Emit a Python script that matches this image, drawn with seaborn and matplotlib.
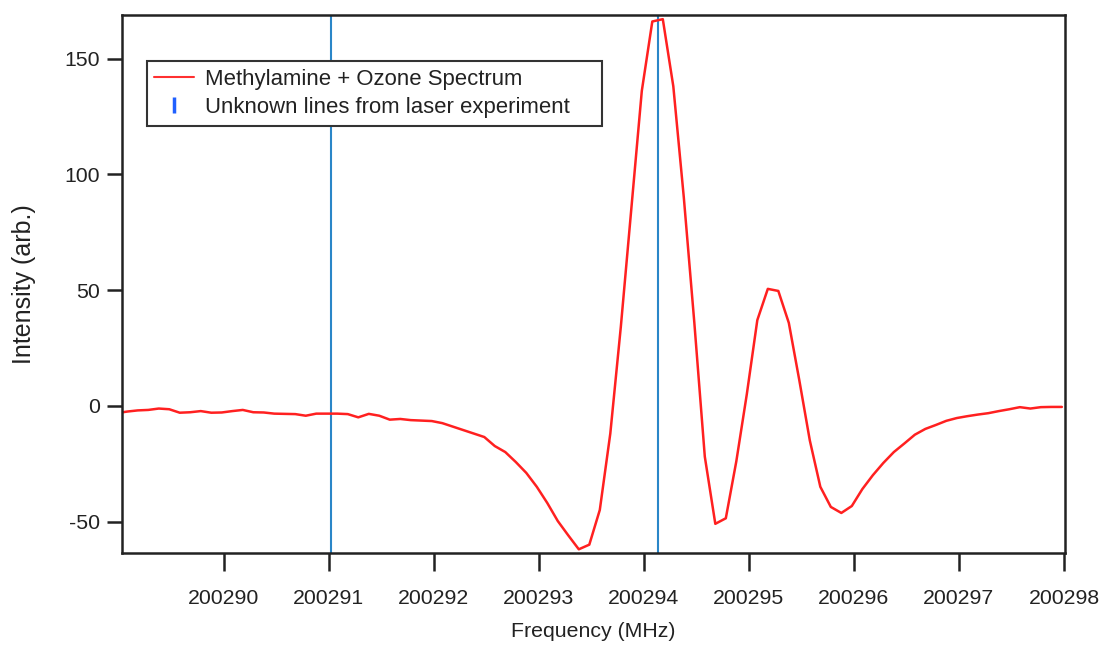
import numpy as np
import pandas as pd
import matplotlib
matplotlib.use("Agg")
import matplotlib.pyplot as plt
from matplotlib.lines import Line2D
import seaborn as sns

frequency = [
    200288.98, 200289.08, 200289.18, 200289.28, 200289.38, 200289.48, 200289.58, 200289.68,
    200289.78, 200289.88, 200289.98, 200290.08, 200290.18, 200290.28, 200290.38, 200290.48,
    200290.58, 200290.68, 200290.78, 200290.88, 200290.98, 200291.08, 200291.18, 200291.28,
    200291.38, 200291.48, 200291.58, 200291.68, 200291.78, 200291.88, 200291.98, 200292.08,
    200292.18, 200292.28, 200292.38, 200292.48, 200292.58, 200292.68, 200292.78, 200292.88,
    200292.98, 200293.08, 200293.18, 200293.28, 200293.38, 200293.48, 200293.58, 200293.68,
    200293.78, 200293.88, 200293.98, 200294.08, 200294.18, 200294.28, 200294.38, 200294.48,
    200294.58, 200294.68, 200294.78, 200294.88, 200294.98, 200295.08, 200295.18, 200295.28,
    200295.38, 200295.48, 200295.58, 200295.68, 200295.78, 200295.88, 200295.98, 200296.08,
    200296.18, 200296.28, 200296.38, 200296.48, 200296.58, 200296.68, 200296.78, 200296.88,
    200296.98, 200297.08, 200297.18, 200297.28, 200297.38, 200297.48, 200297.58, 200297.68,
    200297.78, 200297.88, 200297.98,
]
intensity = [
    -3.2, -2.5, -2.0, -1.8, -1.2, -1.5, -3.0, -2.8,
    -2.3, -3.0, -2.9, -2.3, -1.8, -2.8, -2.9, -3.4,
    -3.5, -3.6, -4.3, -3.4, -3.4, -3.4, -3.6, -5.0,
    -3.5, -4.3, -6.0, -5.7, -6.2, -6.4, -6.6, -7.5,
    -9.0, -10.5, -12.0, -13.5, -17.4, -20.0, -24.3, -29.0,
    -35.0, -42.0, -49.8, -56.0, -62.0, -60.0, -45.0, -12.0,
    34.0, 85.0, 136.0, 166.0, 167.0, 138.0, 90.0, 36.0,
    -22.0, -51.0, -48.6, -24.0, 5.0, 37.0, 50.5, 49.6,
    35.8, 11.0, -15.0, -35.0, -43.7, -46.3, -43.3, -36.0,
    -30.0, -24.7, -20.0, -16.3, -12.5, -10.0, -8.3, -6.5,
    -5.3, -4.5, -3.8, -3.2, -2.3, -1.5, -0.6, -1.2,
    -0.6, -0.5, -0.5,
]
unknown_lines = [200291.02, 200294.13]

x_ticks = [200290, 200291, 200292, 200293, 200294, 200295, 200296, 200297, 200298]
y_ticks = [-50, 0, 50, 100, 150]

sns.set_theme(style="ticks")
plt.rcParams["font.family"] = ["Liberation Sans", "DejaVu Sans"]

FS_TICK, FS_LEG = 15.3, 15.9

fig = plt.figure(figsize=(11.02, 6.46), dpi=100)
ax = fig.add_axes([122 / 1102, 1 - 553 / 646, (1065 - 122) / 1102, (553 - 15) / 646])

df = pd.DataFrame({"Frequency": frequency, "Intensity": intensity})
sns.lineplot(data=df, x="Frequency", y="Intensity", ax=ax, color="#ff2020",
             linewidth=1.8, sort=False, estimator=None)

for xv in unknown_lines:
    ax.axvline(xv, color="#2a86c8", linewidth=1.5, zorder=1)

ax.set_xlim(200289.03, 200298.01)
ax.set_ylim(-63.6, 168.8)
ax.set_xticks(x_ticks)
ax.set_xticklabels([str(t) for t in x_ticks], fontsize=FS_TICK)
ax.set_yticks(y_ticks)
ax.set_yticklabels([str(t) for t in y_ticks], fontsize=FS_TICK)

for s in ax.spines.values():
    s.set_visible(True)
    s.set_linewidth(1.8)
    s.set_color("#222222")

ax.tick_params(axis="x", direction="out", length=13, width=1.8,
               colors="#222222", pad=13)
ax.tick_params(axis="y", direction="out", length=11, width=1.8,
               colors="#222222", pad=5)

ax.set_xlabel("Frequency (MHz)", fontsize=FS_TICK, color="#222222", labelpad=10)
ax.set_ylabel("Intensity (arb.)", fontsize=18, color="#222222", labelpad=20)

handles = [
    Line2D([], [], color="#ff3030", linewidth=1.5),
    Line2D([], [], color="#2060ff", linestyle="none", marker="|",
           markersize=12, markeredgewidth=2.5),
]
labels = ["Methylamine + Ozone Spectrum", "Unknown lines from laser experiment    "]
leg = ax.legend(handles, labels, loc="upper left", bbox_to_anchor=(0.026, 0.9145),
                fontsize=FS_LEG, frameon=True, fancybox=False,
                handlelength=1.8, borderpad=0.36, labelspacing=0.32, handletextpad=0.5,
                borderaxespad=0)
leg.get_frame().set_edgecolor("#333333")
leg.get_frame().set_linewidth(1.5)
leg.get_frame().set_alpha(1)
for t in leg.get_texts():
    t.set_color("#222222")

fig.savefig("out.png", dpi=100)
